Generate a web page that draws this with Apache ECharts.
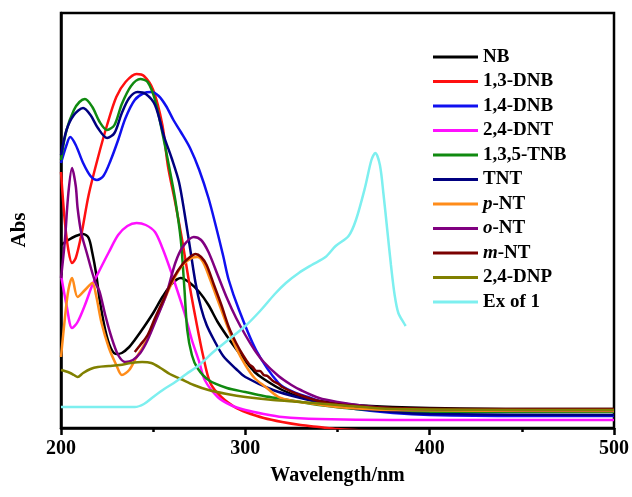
<!DOCTYPE html>
<html>
<head>
<meta charset="utf-8">
<script src="https://cdn.jsdelivr.net/npm/echarts@6/dist/echarts.min.js"></script>
<style>html,body{margin:0;padding:0;background:#fff}#c{width:632px;height:497px}</style>
</head>
<body>
<div id="c"></div>
<script>
// Wavelength (nm) / absorbance pairs
const NB = [[200,1.83],[204,1.88],[208,1.92],[212,1.94],[215,1.90],[217,1.75],[219,1.55],[221,1.28],[224,0.98],[227,0.80],[230,0.74],[233,0.75],[237,0.81],[240,0.88],[245,1.01],[250,1.15],[255,1.31],[260,1.44],[265,1.50],[270,1.45],[275,1.36],[280,1.23],[285,1.06],[290,0.92],[295,0.79],[300,0.67],[305,0.56],[310,0.49],[320,0.38],[330,0.31],[340,0.27],[360,0.23],[380,0.21],[400,0.20],[450,0.19],[500,0.19]];
const DNB13 = [[200,2.56],[202,2.08],[204,1.78],[206,1.65],[208,1.70],[211,1.93],[215,2.33],[220,2.70],[225,3.03],[230,3.31],[235,3.46],[241,3.54],[245,3.52],[250,3.38],[255,3.03],[258,2.62],[262,2.25],[266,1.85],[270,1.40],[273,1.10],[277,0.73],[281,0.45],[287,0.31],[295,0.20],[300,0.16],[310,0.10],[320,0.06],[330,0.03],[340,0.01],[350,-0.01],[400,-0.05],[500,-0.05]];
const DNB14 = [[200,2.65],[203,2.83],[205,2.91],[208,2.83],[212,2.65],[216,2.52],[219.5,2.48],[223,2.52],[227,2.68],[231,2.88],[235,3.10],[240,3.28],[245,3.35],[249,3.36],[253,3.32],[257,3.22],[261,3.08],[265,2.96],[270,2.80],[275,2.58],[280,2.30],[284,2.02],[288,1.72],[291,1.48],[296.6,1.18],[305.8,0.78],[318,0.45],[326,0.36],[334,0.31],[345,0.24],[360,0.19],[380,0.15],[400,0.13],[450,0.12],[500,0.12]];
const DNT24 = [[200,1.53],[203,1.23],[206,1.00],[209,1.06],[213,1.23],[217,1.43],[221,1.58],[226,1.76],[231,1.93],[236,2.02],[241,2.05],[246,2.03],[251,1.96],[255,1.80],[259,1.60],[263,1.38],[267,1.15],[271,0.88],[275,0.66],[278,0.48],[285,0.31],[292,0.23],[300,0.18],[310,0.14],[320,0.11],[340,0.09],[380,0.08],[500,0.08]];
const TNB135 = [[200,2.68],[203,2.98],[207,3.18],[210,3.26],[213,3.29],[217,3.21],[221,3.06],[225,2.98],[229,3.03],[233,3.24],[238,3.42],[243,3.49],[247,3.46],[251,3.28],[255,2.95],[259,2.58],[262,2.28],[265,1.88],[267,1.38],[268.5,0.98],[271,0.73],[274,0.60],[280,0.48],[290,0.40],[300,0.36],[310,0.32],[320,0.29],[330,0.26],[340,0.23],[360,0.19],[380,0.17],[400,0.16],[500,0.16]];
const TNT = [[200,2.73],[203,2.98],[207,3.13],[212,3.20],[216,3.13],[220,3.00],[225,2.90],[229,2.95],[233,3.15],[237,3.30],[241.5,3.36],[246,3.34],[251,3.23],[256,2.91],[260,2.70],[264,2.46],[267,2.15],[270,1.80],[273,1.45],[276,1.20],[279,1.03],[283,0.88],[288,0.72],[295,0.59],[300,0.51],[315,0.38],[330,0.30],[350,0.22],[380,0.16],[400,0.14],[500,0.13]];
const PNT = [[200,0.71],[202,1.08],[204,1.38],[206,1.50],[209,1.31],[213,1.38],[217,1.45],[219,1.33],[222,1.05],[226,0.80],[230,0.63],[233,0.53],[237,0.58],[241,0.71],[245,0.83],[250,1.03],[256,1.28],[261,1.48],[266,1.63],[271,1.70],[274,1.71],[277,1.66],[281,1.48],[285,1.28],[290,1.03],[295,0.80],[300,0.63],[305,0.50],[311,0.41],[318,0.31],[326,0.27],[334,0.25],[350,0.21],[380,0.18],[500,0.17]];
const ONT = [[200,1.50],[202,1.85],[204,2.35],[206,2.60],[208,2.42],[209,2.20],[211,1.95],[214,1.75],[217,1.55],[219,1.44],[221,1.36],[224,1.13],[227,0.93],[231,0.73],[235,0.66],[239,0.68],[243,0.75],[247,0.88],[252,1.10],[257,1.33],[262,1.65],[266,1.81],[272,1.91],[276,1.88],[280,1.76],[285,1.53],[290,1.30],[295,1.10],[300,0.93],[305,0.78],[310,0.66],[318,0.52],[325,0.43],[330,0.38],[340,0.30],[350,0.26],[365,0.22],[385,0.19],[500,0.18]];
const MNT = [[240,0.76],[243,0.83],[247,0.93],[251,1.10],[256,1.30],[261,1.50],[266,1.64],[270,1.71],[273,1.74],[276,1.71],[279,1.63],[283,1.43],[287,1.23],[291,1.01],[295,0.85],[299,0.72],[302,0.64],[304,0.61],[306,0.57],[308,0.57],[310,0.53],[312,0.52],[315,0.47],[318,0.44],[320,0.41],[328,0.34],[336,0.29],[345,0.25],[360,0.22],[380,0.20],[420,0.19],[460,0.19],[500,0.19]];
const DNP24 = [[200,0.58],[202,0.57],[205,0.55],[207,0.53],[209,0.51],[212,0.55],[216,0.59],[220,0.61],[226,0.62],[232,0.63],[238,0.65],[244,0.66],[249,0.65],[254,0.60],[259,0.54],[265,0.49],[272,0.43],[280,0.38],[290,0.34],[300,0.31],[315,0.28],[330,0.26],[350,0.23],[380,0.19],[500,0.18]];
const EX1 = [[200,0.21],[220,0.21],[240,0.21],[245,0.24],[250,0.31],[256,0.39],[262,0.46],[268,0.54],[275,0.63],[282,0.75],[290,0.87],[300,1.02],[308,1.17],[316,1.34],[322,1.45],[329,1.55],[336,1.63],[343.5,1.71],[349,1.82],[356,1.92],[360,2.08],[365,2.41],[368.4,2.68],[370.5,2.75],[373,2.63],[375,2.33],[377,1.98],[379,1.63],[381,1.33],[383,1.15],[386,1.05],[387,1.02]];

const names = ['NB','1,3-DNB','1,4-DNB','2,4-DNT','1,3,5-TNB','TNT','p-NT','o-NT','m-NT','2,4-DNP','Ex of 1'];
const datasets = [NB, DNB13, DNB14, DNT24, TNB135, TNT, PNT, ONT, MNT, DNP24, EX1];
const colors = ['#000000','#FF1010','#1010F0','#FF10FF','#108A10','#000080','#FF8C1A','#800080','#7A0000','#808000','#7DEFEF'];
const xTicks = [200, 300, 400, 500];

const FONT = '"Liberation Serif", "Times New Roman", serif';
const chart = echarts.init(document.getElementById('c'), null, {renderer: 'canvas'});
chart.setOption({
  animation: false,
  backgroundColor: '#fff',
  grid: {left: 61, right: 15, top: 13, bottom: 69, show: true, borderColor: '#000', borderWidth: 2.5},
  xAxis: {
    type: 'value', min: xTicks[0], max: xTicks[xTicks.length - 1], interval: 100,
    name: 'Wavelength/nm', nameLocation: 'middle', nameGap: 38,
    nameTextStyle: {fontFamily: FONT, fontWeight: 'bold', fontSize: 20, color: '#000'},
    axisLine: {lineStyle: {color: '#000', width: 2.5}},
    axisTick: {length: 7, lineStyle: {color: '#000', width: 2.5}},
    minorTick: {show: true, splitNumber: 2, length: 4, lineStyle: {color: '#000', width: 2.5}},
    axisLabel: {fontFamily: FONT, fontWeight: 'bold', fontSize: 20, color: '#000', margin: 11},
    splitLine: {show: false}
  },
  yAxis: {
    type: 'value', min: 0, max: 4.15,
    axisLine: {show: true, lineStyle: {color: '#000', width: 2.5}},
    axisTick: {show: false}, axisLabel: {show: false}, splitLine: {show: false}
  },
  legend: {
    orient: 'vertical', left: 428, top: 42, itemWidth: 45, itemHeight: 3, itemGap: 4.5,
    icon: 'rect', data: names,
    formatter: function (n) {
      if (n === 'p-NT' || n === 'o-NT' || n === 'm-NT') return '{i|' + n.charAt(0) + '}-NT';
      return n;
    },
    textStyle: {fontFamily: FONT, fontWeight: 'bold', fontSize: 19, color: '#000', lineHeight: 20,
      rich: {i: {fontFamily: FONT, fontWeight: 'bold', fontStyle: 'italic', fontSize: 19, color: '#000', lineHeight: 20}}}
  },
  graphic: [{
    type: 'text', x: 20, y: 230, rotation: Math.PI / 2,
    style: {text: 'Abs', font: 'bold 21px "Liberation Serif"', align: 'center', verticalAlign: 'middle', fill: '#000'}
  }],
  series: names.map(function (n, i) {
    return {
      name: n, type: 'line', data: datasets[i], smooth: 0.3, symbol: 'none', clip: true,
      lineStyle: {color: colors[i], width: 2.5}, itemStyle: {color: colors[i]}
    };
  })
});
</script>
</body>
</html>
